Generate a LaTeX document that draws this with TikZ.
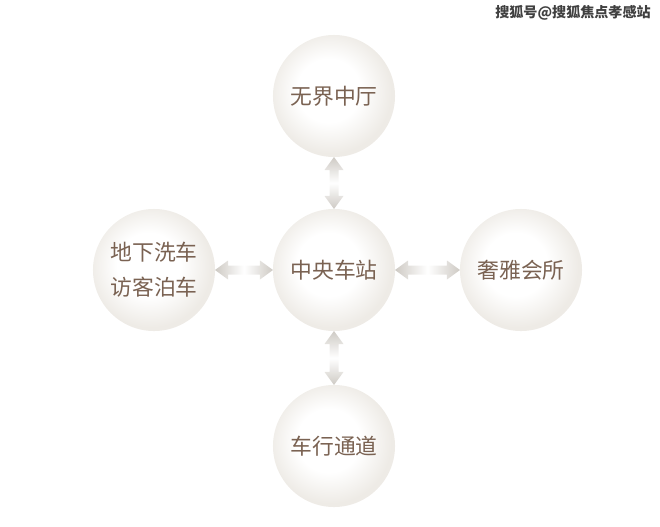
\documentclass[tikz,border=0pt]{standalone}
\usepackage{fontspec}
\newfontfamily\cjk{Noto Sans CJK SC}
\usetikzlibrary{calc}

\definecolor{textbrown}{RGB}{122,98,82}
\definecolor{ballrim}{RGB}{238,235,230}
\definecolor{arrowgray}{RGB}{206,202,196}

\pgfdeclareradialshading{ballshade}{\pgfpoint{-3bp}{3bp}}{%
  color(0bp)=(white); color(13bp)=(white); color(25bp)=(ballrim); color(50bp)=(ballrim)}

\tikzset{
  ball/.style={circle, minimum size=3.05cm, inner sep=0pt, outer sep=0pt,
    shading=ballshade, text=textbrown,
    font=\cjk\fontsize{15.5}{25}\selectfont, align=center},
}

% double arrows, #1 = upper/left tip, #2 = lower/right tip
\newcommand\vdarrow[2]{%
  \shade[top color=arrowgray, bottom color=arrowgray, middle color=white]
    (#1) -- ($(#1)+(9.5,13)$) -- ($(#1)+(4.5,13)$) -- ($(#2)+(4.5,-13)$)
    -- ($(#2)+(9.5,-13)$) -- (#2) -- ($(#2)+(-9.5,-13)$) -- ($(#2)+(-4.5,-13)$)
    -- ($(#1)+(-4.5,13)$) -- ($(#1)+(-9.5,13)$) -- cycle;}
\newcommand\hdarrow[2]{%
  \shade[left color=arrowgray, right color=arrowgray, middle color=white]
    (#1) -- ($(#1)+(13,-9.5)$) -- ($(#1)+(13,-4.5)$) -- ($(#2)+(-13,-4.5)$)
    -- ($(#2)+(-13,-9.5)$) -- (#2) -- ($(#2)+(-13,9.5)$) -- ($(#2)+(-13,4.5)$)
    -- ($(#1)+(13,4.5)$) -- ($(#1)+(13,9.5)$) -- cycle;}

\begin{document}
\begin{tikzpicture}[x=0.025cm,y=-0.025cm]

\useasboundingbox (0,0) rectangle (660,527);

\node[ball] (lobby)  at (334,96)  {无界中厅};
\node[ball] (hub)    at (334,270) {中央车站};
\node[ball] (wash)   at (154,270) {地下洗车\\访客泊车};
\node[ball] (club)   at (521,270) {奢雅会所};
\node[ball] (road)   at (334,446) {车行通道};

\vdarrow{lobby.south}{hub.north}
\vdarrow{hub.south}{road.north}
\hdarrow{wash.east}{hub.west}
\hdarrow{hub.east}{club.west}

\node[text=black!75, font=\cjk\bfseries\fontsize{10}{12}\selectfont] (mark) at (573,13) {搜狐号@搜狐焦点孝感站};

\end{tikzpicture}
\end{document}
